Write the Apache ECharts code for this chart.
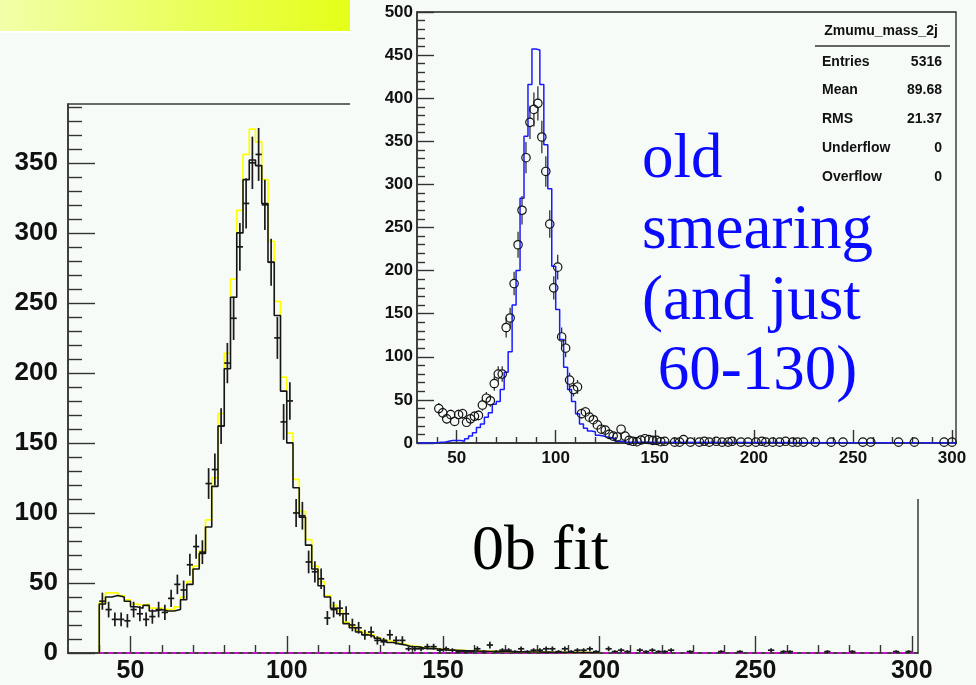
<!DOCTYPE html>
<html><head><meta charset="utf-8">
<script src="https://cdn.jsdelivr.net/npm/echarts@6/dist/echarts.min.js"></script>
<style>html,body{margin:0;padding:0;background:#f6fbf8;}#c{width:976px;height:685px;}</style>
</head><body><div id="c"></div>
<script>
// ---------- data ----------
const binStart = 40, binWidth = 2;
// main plot: black (MC) histogram, bins of 2 GeV from 40
const mainMC = [
  35,40,41,40,37,33,32,34,30,31,
  30,30,31,38,49,60,71,90,119,162,
  203,254,300,338,352,348,321,279,241,187,
  150,118,97,77,60,48,40,32,28,21,
  18,15,13,12,10.5,9,7.5,6.5,5.7,4.5,
  4.5,3.5,3,3,2.5,2,2,1.8,1.6,1.5,
  1.3,1.2,1.1,1,1,0.9,0.8,0.8,0.7,0.7,
  0.6,0.6,0.5,0.5,0.5,0.4,0.4,0.4,0.3,0.3];
// main plot: yellow histogram
const mainAlt = [
  36,43,43,41,38,35,34,35,32,32,
  31,31,33,40,51,62,73,95,125,171,
  214,267,316,356,374,365,338,294,251,197,
  157,124,101,81,62,51,41,34,30,22,
  19,16,14.5,13,11,9.3,8,7,6.2,5,
  4.7,3.8,3.2,3.1,2.7,2.2,2.1,1.9,1.7,1.6,
  1.4,1.3,1.2,1.1,1.05,0.95,0.9,0.85,0.75,0.75,
  0.65,0.65,0.55,0.55,0.5,0.45,0.45,0.4,0.35,0.3];
// main plot: data points (crosses)
const mainPtsX = [
  41,43,45,47,49,51,53,55,57,59,
  61,63,65,67,69,71,73,75,77,79,
  81,83,85,87,89,91,93,95,97,99,
  101,103,105,107,109,111,113,115,117,119,
  121,123,125,127,129,131,133,135,137,139,
  141,143,145,147,149,151,153,155,157,159,
  161,163,165,167,169,171,173,175,177,179,
  181,183,185,187,189,191,193,195,197,199,
  203,205,207,209,213,215,217,219,221,223,
  229,239,245,255,259,261,273,281,295,299];
const mainPtsY = [
  37,31,24,24,23,31,28,24,26,31,
  29,39,49,45,63,76,72,121,131,162,
  207,239,290,321,350,356,320,279,225,165,
  180,100,98,65,58,53,25,31,32,28,
  20,18,13,15,9,8,13,9,9,3,
  3,3,4.5,4.5,2,3,2,1,1,1,
  3,1,5.7,1,2,2,1,3,1,2,
  2,3,3,1,3,1,2,2,3,1,
  3,1,2,1,2,1,2,1,1,2,
  1,1,1,2,1,1,1,1,1,1];
const mainPtsErr = [
  6.1,5.6,4.9,4.9,4.8,5.6,5.3,4.9,5.1,5.6,
  5.4,6.2,7,6.7,7.9,8.7,8.5,11,11.4,12.7,
  14.4,15.5,17,17.9,18.7,18.9,17.9,16.7,15,12.8,
  13.4,10,9.9,8.1,7.6,7.3,5,5.6,5.7,5.3,
  4.5,4.2,3.6,3.9,3,2.8,3.6,3,3,1.7,
  1.7,1.7,2.1,2.1,1.4,1.7,1.4,1,1,1,
  1.7,1,2.4,1,1.4,1.4,1,1.7,1,1.4,
  1.4,1.7,1.7,1,1.7,1,1.4,1.4,1.7,1,
  1.7,1,1.4,1,1.4,1,1.4,1,1,1.4,
  1,1,1,1.4,1,1,1,1,1,1];
// inset: blue histogram, bins of 2 GeV from 40
const insetMC = [
  1,1,2,3,3,3,2,5,8,12,
  18,22,30,35,45,48,62,82,106,160,
  200,284,356,416,457,456,416,346,295,205,
  155,120,88,62,48,34,22,17,14,13,
  9,8,7,6,5,2,2,1,1];
// inset: data points (open circles)
const insetPtsX = [
  41,43,45,47,49,51,53,55,57,59,
  61,63,65,67,69,71,73,75,77,79,
  81,83,85,87,89,91,93,95,97,99,
  101,103,105,107,109,111,113,115,117,119,
  121,123,125,127,129,131,133,135,137,139,
  141,143,145,147,149,151,153,155,160,162.5,
  164.5,168,172.5,175,177.5,181,184,187,189,193.5,
  197,201,204,206,209.5,213,216,219.5,222,225,
  231,239,245,255,259,273,281,296,300];
const insetPtsY = [
  40,35,28,33,25,33,34,24,28,31,
  32,44,52,49,69,80,80,134,145,185,
  230,270,331,372,387,394,355,315,254,180,
  204,123,110,73,62,65,34,36,30,27,
  21,16,15,10,8,7,16,8,3,2,
  1.5,3.5,5,4,3,3,1.5,2,1,1,
  4,1,1,2,1,2,1,1,2,1,
  1,1,2,1,1,1,2,1,1,1,
  1,1,1,1,1,1,1,1,1];
const insetPtsErr = [
  6.3,5.9,5.3,5.7,5,5.7,5.8,4.9,5.3,5.6,
  5.7,6.6,7.2,7,8.3,8.9,8.9,11.6,12,13.6,
  15.2,16.4,18.2,19.3,19.7,19.8,18.8,17.7,15.9,13.4,
  14.3,11.1,10.5,8.5,7.9,8.1,5.8,6,5.5,5.2,
  4.6,4,3.9,3.2,2.8,2.6,4,2.8,1.7,1.4,
  1.2,1.9,2.2,2,1.7,1.7,1.2,1.4,1,1,
  2,1,1,1.4,1,1.4,1,1,1.4,1,
  1,1,1.4,1,1,1,1.4,1,1,1,
  1,1,1,1,1,1,1,1,1];
// tick values
const xMajor = [50,100,150,200,250,300];
const xMinor = [40,60,70,80,90,110,120,130,140,160,170,180,190,210,220,230,240,260,270,280,290];
const mainYMajor = [0,50,100,150,200,250,300,350];
const mainYMinor = [10,20,30,40,60,70,80,90,110,120,130,140,160,170,180,190,210,220,230,240,260,270,280,290,310,320,330,340,360,370,380,390];
const insetYMajor = [0,50,100,150,200,250,300,350,400,450,500];
const insetYMinor = [10,20,30,40,60,70,80,90,110,120,130,140,160,170,180,190,210,220,230,240,260,270,280,290,310,320,330,340,360,370,380,390,410,420,430,440,460,470,480,490];
const statsRows = [['Entries','5316'],['Mean','89.68'],['RMS','21.37'],['Underflow','0'],['Overflow','0']];

// ---------- helpers ----------
const BG = '#f6fbf8';
const SANS = '"Liberation Sans", Arial, Helvetica, sans-serif';
const SERIF = '"Liberation Serif", "Times New Roman", serif';

function stepPoints(start, width, vals, lo, hi) {
  const pts = [[lo, 0]];
  vals.forEach((v, i) => pts.push([start + i * width, v]));
  pts.push([start + vals.length * width, 0]);
  pts.push([hi, 0]);
  return pts;
}
function triples(xs, ys, es) { return xs.map((x, i) => [x, ys[i], es[i]]); }

function axisSet(dim, gridIndex, min, max, major, minor, majLen, minLen, fontSize, margin, z) {
  const pos = dim === 'x' ? 'bottom' : 'left';
  const base = {type: 'value', gridIndex, min, max, position: pos, z,
    splitLine: {show: false}, minorTick: {show: false}};
  return [
    Object.assign({}, base, {
      axisLine: {show: true, onZero: false, lineStyle: {color: '#333', width: 1.5}},
      axisTick: {show: true, inside: true, length: majLen, customValues: major, lineStyle: {color: '#333', width: 1.4}},
      axisLabel: {show: true, customValues: major, margin, fontFamily: SANS, fontWeight: 'bold', fontSize, color: '#111'}
    }),
    Object.assign({}, base, {
      axisLine: {show: false},
      axisTick: {show: true, inside: true, length: minLen, customValues: minor, lineStyle: {color: '#333', width: 1.4}},
      axisLabel: {show: false}
    })
  ];
}

function crossItem(params, api) {
  const x = api.value(0), y = api.value(1), e = api.value(2);
  const l = api.coord([x - 1, y]), r = api.coord([x + 1, y]);
  const t = api.coord([x, y + e]), b = api.coord([x, Math.max(0, y - e)]);
  const st = {stroke: '#1a1a1a', lineWidth: 1.7};
  return {type: 'group', children: [
    {type: 'line', shape: {x1: l[0], y1: l[1], x2: r[0], y2: r[1]}, style: st},
    {type: 'line', shape: {x1: t[0], y1: t[1], x2: b[0], y2: b[1]}, style: st}
  ]};
}
function circleItem(params, api) {
  const x = api.value(0), y = api.value(1), e = api.value(2);
  const c = api.coord([x, y]);
  const t = api.coord([x, y + e]), b = api.coord([x, Math.max(0, y - e)]);
  const R = 4.2;
  const st = {stroke: '#333', lineWidth: 1.3};
  const ch = [];
  if (c[1] - t[1] > R) ch.push({type: 'line', shape: {x1: c[0], y1: t[1], x2: c[0], y2: c[1] - R}, style: st});
  if (b[1] - c[1] > R) ch.push({type: 'line', shape: {x1: c[0], y1: c[1] + R, x2: c[0], y2: b[1]}, style: st});
  ch.push({type: 'circle', shape: {cx: c[0], cy: c[1], r: R}, style: {fill: 'none', stroke: '#111', lineWidth: 1.2}});
  return {type: 'group', children: ch};
}

// ---------- chart ----------
const chart = echarts.init(document.getElementById('c'), null, {renderer: 'canvas'});
const mainX = axisSet('x', 0, 30, 302, xMajor, xMinor, 17, 8, 25, 6, 1);
const mainY = axisSet('y', 0, 0, 392, mainYMajor, mainYMinor, 27, 14, 26, 10, 1);
const insX = axisSet('x', 1, 30, 302, xMajor, xMinor, 13, 6, 17, 7, 10);
const insY = axisSet('y', 1, 0, 500, insetYMajor, insetYMinor, 17, 8, 17, 4, 10);

const graphics = [
  {type: 'rect', z: 1, shape: {x: 0, y: 0, width: 350, height: 31},
   style: {fill: new echarts.graphic.LinearGradient(0, 0, 1, 0, [
     {offset: 0, color: '#f2ffa8'}, {offset: 1, color: '#e4ff18'}])}},
  {type: 'rect', z: 1, shape: {x: 0, y: 31, width: 350, height: 2}, style: {fill: '#ffffff'}},
  {type: 'rect', z: 5, shape: {x: 350, y: 0, width: 626, height: 499}, style: {fill: BG}},
  {type: 'text', z: 20, x: 881, y: 31, style: {text: 'Zmumu_mass_2j', font: 'bold 14px ' + SANS, fill: '#111', align: 'center', verticalAlign: 'middle'}},
  {type: 'line', z: 20, shape: {x1: 815, y1: 46, x2: 950, y2: 46}, style: {stroke: '#333', lineWidth: 1.3}},
  {type: 'text', z: 20, x: 642, y: 160, style: {text: 'old', font: '63px ' + SERIF, fill: '#0a0aff', align: 'left', verticalAlign: 'middle'}},
  {type: 'text', z: 20, x: 642, y: 231, style: {text: 'smearing', font: '63px ' + SERIF, fill: '#0a0aff', align: 'left', verticalAlign: 'middle'}},
  {type: 'text', z: 20, x: 642, y: 302, style: {text: '(and just', font: '63px ' + SERIF, fill: '#0a0aff', align: 'left', verticalAlign: 'middle'}},
  {type: 'text', z: 20, x: 642, y: 372, style: {text: ' 60-130)', font: '63px ' + SERIF, fill: '#0a0aff', align: 'left', verticalAlign: 'middle'}},
  {type: 'text', z: 20, x: 472, y: 552, style: {text: '0b fit', font: '64px ' + SERIF, fill: '#000', align: 'left', verticalAlign: 'middle'}}
];
const rowY = [62, 90, 119, 148, 177];
statsRows.forEach((r, i) => {
  graphics.push({type: 'text', z: 20, x: 822, y: rowY[i], style: {text: r[0], font: 'bold 14px ' + SANS, fill: '#111', align: 'left', verticalAlign: 'middle'}});
  graphics.push({type: 'text', z: 20, x: 942, y: rowY[i], style: {text: r[1], font: 'bold 14px ' + SANS, fill: '#111', align: 'right', verticalAlign: 'middle'}});
});

chart.setOption({
  animation: false,
  backgroundColor: BG,
  grid: [
    {left: 68, top: 104, width: 850, height: 549, show: true, borderColor: '#3a3a3a', borderWidth: 1.5, backgroundColor: 'transparent', z: 0},
    {left: 417, top: 12, width: 539, height: 431, show: true, borderColor: '#222', borderWidth: 1.3, backgroundColor: 'transparent', z: 10}
  ],
  xAxis: [mainX[0], mainX[1], insX[0], insX[1]],
  yAxis: [mainY[0], mainY[1], insY[0], insY[1]],
  graphic: {elements: graphics},
  series: [
    {type: 'line', name: 'fit', xAxisIndex: 0, yAxisIndex: 0, z: 2, showSymbol: false, silent: true,
     data: [[40, 0], [302, 0]], lineStyle: {color: '#ff00ff', width: 1.6, type: [5, 4]}},
    {type: 'line', name: 'yellow', xAxisIndex: 0, yAxisIndex: 0, z: 2, step: 'end', showSymbol: false, silent: true,
     data: stepPoints(binStart, binWidth, mainAlt, 40, 200), lineStyle: {color: '#ffff00', width: 1.7}},
    {type: 'line', name: 'MC', xAxisIndex: 0, yAxisIndex: 0, z: 3, step: 'end', showSymbol: false, silent: true,
     data: stepPoints(binStart, binWidth, mainMC, 40, 200), lineStyle: {color: '#151515', width: 1.6}},
    {type: 'custom', name: 'data', xAxisIndex: 0, yAxisIndex: 0, z: 4, silent: true,
     renderItem: crossItem, encode: {x: 0, y: 1}, data: triples(mainPtsX, mainPtsY, mainPtsErr)},
    {type: 'line', name: 'inset MC', xAxisIndex: 2, yAxisIndex: 2, z: 12, step: 'end', showSymbol: false, silent: true,
     data: stepPoints(binStart, binWidth, insetMC, 30, 302), lineStyle: {color: '#1a1aff', width: 1.5}},
    {type: 'custom', name: 'inset data', xAxisIndex: 2, yAxisIndex: 2, z: 13, silent: true,
     renderItem: circleItem, encode: {x: 0, y: 1}, data: triples(insetPtsX, insetPtsY, insetPtsErr)}
  ]
});
</script></body></html>
